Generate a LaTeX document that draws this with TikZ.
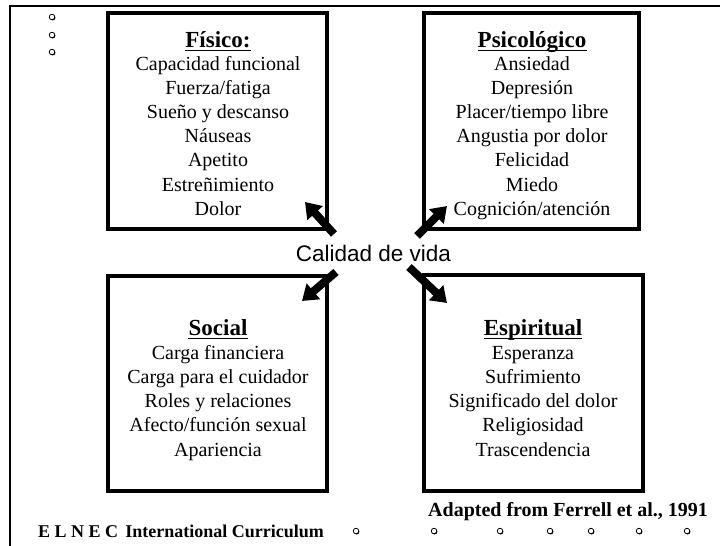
\documentclass[tikz,border=0pt]{standalone}
\usepackage{fontspec}
\setmainfont{Liberation Serif}
\newfontfamily\sansf{Liberation Sans}
\usetikzlibrary{arrows.meta,shadows}
\begin{document}
\begin{tikzpicture}[x=1pt,y=-1pt,
  qbox/.style={draw, line width=4pt, inner sep=0pt},
  ttl/.style={anchor=base, inner sep=0pt, font=\fontsize{23}{23}\selectfont\bfseries},
  itm/.style={anchor=base, inner sep=0pt, font=\fontsize{20}{20}\selectfont},
  ulinestyle/.style={line width=1.4pt},
  bigarrow/.style={line width=8pt, -{Triangle[length=15pt,width=20pt]}},
  dot/.style={circle, draw, fill=white, line width=0.8pt, inner sep=0pt, minimum size=5.5pt,
    drop shadow={shadow xshift=0.7pt, shadow yshift=-0.7pt, opacity=1, fill=black}},
  frameline/.style={line width=2pt},
  foot/.style={anchor=base west, inner sep=0pt, font=\bfseries\fontsize{20}{20}\selectfont}]
\useasboundingbox (0,0) rectangle (720,546);
% frame
\coordinate (fa) at (10,546);
\coordinate (fb) at (10,5.5);
\coordinate (fc) at (720,5.5);
\draw[frameline] (fa) -- (fb) -- (fc);
% boxes
\node[qbox, minimum width=219.5pt, minimum height=216pt] (bfis) at (217.3,121) {};
\node[qbox, minimum width=215pt, minimum height=216pt] (bpsi) at (531.5,121) {};
\node[qbox, minimum width=219.5pt, minimum height=215pt] (bsoc) at (217.3,383.5) {};
\node[qbox, minimum width=219pt, minimum height=216pt] (besp) at (533.5,383) {};
% titles
\node[ttl] (tfis) at (218,47) {Físico:};
\node[ttl] (tpsi) at (532,47) {Psicológico};
\node[ttl] (tsoc) at (218,335) {Social};
\node[ttl] (tesp) at (533,335) {Espiritual};
\foreach \n in {tfis,tpsi,tsoc,tesp}
  \draw[ulinestyle] ([yshift=-3.5pt]\n.base west) -- ([yshift=-3.5pt]\n.base east);
% items
\foreach \t [count=\i] in {Capacidad funcional, Fuerza/fatiga, Sueño y descanso, Náuseas, Apetito, Estreñimiento, Dolor}
  \node[itm] (fis\i) at (218,{70+24.2*(\i-1)}) {\t};
\foreach \t [count=\i] in {Ansiedad, Depresión, Placer/tiempo libre, Angustia por dolor, Felicidad, Miedo, Cognición/atención}
  \node[itm] (psi\i) at (532,{70+24.2*(\i-1)}) {\t};
\foreach \t [count=\i] in {Carga financiera, Carga para el cuidador, Roles y relaciones, Afecto/función sexual, Apariencia}
  \node[itm] (soc\i) at (218,{359+24.25*(\i-1)}) {\t};
\foreach \t [count=\i] in {Esperanza, Sufrimiento, Significado del dolor, Religiosidad, Trascendencia}
  \node[itm] (esp\i) at (533,{359+24.25*(\i-1)}) {\t};
% centre
\node[anchor=base, inner sep=0pt, font=\sansf\fontsize{22.5}{22.5}\selectfont] (cal) at (373.5,261.5) {Calidad de vida};
% arrows
\coordinate (a1s) at (334,234); \coordinate (a1e) at (305,202);
\coordinate (a2s) at (417,236); \coordinate (a2e) at (447,206);
\coordinate (a3s) at (336,272); \coordinate (a3e) at (302,301);
\coordinate (a4s) at (409,267); \coordinate (a4e) at (447,303);
\draw[bigarrow] (a1s) -- (a1e);
\draw[bigarrow] (a2s) -- (a2e);
\draw[bigarrow] (a3s) -- (a3e);
\draw[bigarrow] (a4s) -- (a4e);
% footer
\node[foot] (adapt) at (428,516) {Adapted from Ferrell et al., 1991};
\node[foot, font=\bfseries\fontsize{18}{18}\selectfont] (elnec) at (38,537) {E L N E C\hspace{0.4em}International Curriculum};
% dots
\foreach \y [count=\i] in {17,35,52}
  \node[dot] (td\i) at (52,\y) {};
\foreach \x [count=\i] in {356,434,500,550,591,639,687}
  \node[dot] (bd\i) at (\x,531) {};
\end{tikzpicture}
\end{document}
